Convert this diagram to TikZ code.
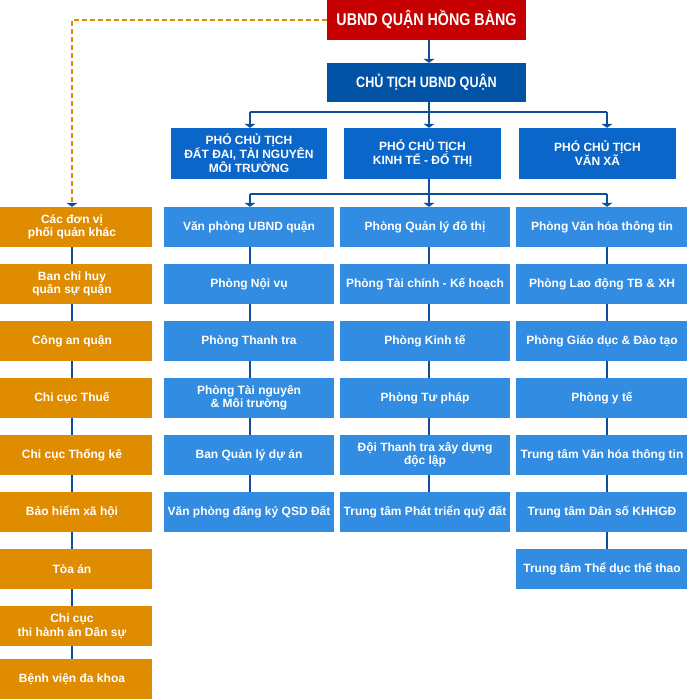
\documentclass[tikz,border=0pt]{standalone}
\usepackage{fontspec}
\setmainfont{Liberation Sans}
\newfontfamily\narrowfont{Liberation Sans}[FakeStretch=0.84]
\usetikzlibrary{arrows.meta}
\definecolor{topred}{HTML}{C60000}
\definecolor{chiefblue}{HTML}{0153A5}
\definecolor{vpblue}{HTML}{0A66C8}
\definecolor{deptblue}{HTML}{328CE1}
\definecolor{unitorange}{HTML}{E08C00}
\definecolor{linkblue}{HTML}{0D4F9E}
\tikzset{
  boxbase/.style={draw=none, text=white, align=center, inner sep=0pt,
    font=\bfseries\fontsize{12}{13.5}\selectfont},
  topbox/.style={boxbase, fill=topred, minimum width=199pt, minimum height=40pt,
    font=\narrowfont\bfseries\fontsize{17}{20}\selectfont},
  chiefbox/.style={boxbase, fill=chiefblue, minimum width=199pt, minimum height=39pt,
    font=\narrowfont\bfseries\fontsize{15}{18}\selectfont},
  vpbox/.style={boxbase, fill=vpblue, minimum width=157pt, minimum height=51pt,
    font=\bfseries\fontsize{12}{14}\selectfont},
  deptbox/.style={boxbase, fill=deptblue, minimum width=170pt, minimum height=40pt},
  deptboxr/.style={boxbase, fill=deptblue, minimum width=172pt, minimum height=40pt},
  unitbox/.style={boxbase, fill=unitorange, minimum width=160pt, minimum height=40pt},
  link/.style={draw=linkblue, line width=1.2pt},
  tipped/.style={-{Triangle[width=11pt,length=4pt,color=linkblue]}},
  dashlink/.style={draw=unitorange, line width=1.2pt, dash pattern=on 5pt off 3pt}
}
\begin{document}
\begin{tikzpicture}[x=1pt,y=-1pt]
\useasboundingbox (0,0) rectangle (687,699);

% top
\node[topbox] (top) at (426.5,20) {UBND QUẬN HỒNG BÀNG};
\node[chiefbox] (chief) at (426.5,82.5) {CHỦ TỊCH UBND QUẬN};

% vice chairs
\node[vpbox, minimum width=156pt] (vp1) at (249,153.5) {PHÓ CHỦ TỊCH\\ĐẤT ĐAI, TÀI NGUYÊN\\MÔI TRƯỜNG};
\node[vpbox] (vp2) at (422.5,153.5) {PHÓ CHỦ TỊCH\\KINH TẾ - ĐỐ THỊ};
\node[vpbox] (vp3) at (597.5,153.5) {PHÓ CHỦ TỊCH\\VĂN XÃ};

% column 1
\node[deptbox] (a1) at (249,227) {Văn phòng UBND quận};
\node[deptbox] (a2) at (249,284) {Phòng Nội vụ};
\node[deptbox] (a3) at (249,341) {Phòng Thanh tra};
\node[deptbox] (a4) at (249,398) {Phòng Tài nguyên\\\& Môi trường};
\node[deptbox] (a5) at (249,455) {Ban Quản lý dự án};
\node[deptbox] (a6) at (249,512) {Văn phòng đăng ký QSD Đất};

% column 2
\node[deptbox] (b1) at (425,227) {Phòng Quản lý đô thị};
\node[deptbox] (b2) at (425,284) {Phòng Tài chính - Kế hoạch};
\node[deptbox] (b3) at (425,341) {Phòng Kinh tế};
\node[deptbox] (b4) at (425,398) {Phòng Tư pháp};
\node[deptbox] (b5) at (425,455) {Đội Thanh tra xây dựng\\độc lập};
\node[deptbox] (b6) at (425,512) {Trung tâm Phát triển quỹ đất};

% column 3
\node[deptboxr] (c1) at (602,227) {Phòng Văn hóa thông tin};
\node[deptboxr] (c2) at (602,284) {Phòng Lao động TB \& XH};
\node[deptboxr] (c3) at (602,341) {Phòng Giáo dục \& Đào tạo};
\node[deptboxr] (c4) at (602,398) {Phòng y tế};
\node[deptboxr] (c5) at (602,455) {Trung tâm Văn hóa thông tin};
\node[deptboxr] (c6) at (602,512) {Trung tâm Dân số KHHGĐ};
\node[deptboxr] (c7) at (602,569) {Trung tâm Thể dục thể thao};

% left units
\node[unitbox] (u1) at (72,227) {Các đơn vị\\phối quản khác};
\node[unitbox] (u2) at (72,284) {Ban chỉ huy\\quân sự quận};
\node[unitbox] (u3) at (72,341) {Công an quận};
\node[unitbox] (u4) at (72,398) {Chi cục Thuế};
\node[unitbox] (u5) at (72,455) {Chi cục Thống kê};
\node[unitbox] (u6) at (72,512) {Bảo hiểm xã hội};
\node[unitbox] (u7) at (72,569) {Tòa án};
\node[unitbox] (u8) at (72,626) {Chi cục\\thi hành án Dân sự};
\node[unitbox] (u9) at (72,679) {Bệnh viện đa khoa};

% bus coordinates
\coordinate (p1L) at (250,112);
\coordinate (p1M) at (429,112);
\coordinate (p1R) at (607,112);
\coordinate (p2L) at (250,194);
\coordinate (p2M) at (429,194);
\coordinate (p2R) at (607,194);

% top connectors
\draw[link,tipped] (top.south -| p1M) -- (chief.north -| p1M);
\draw[link] (chief.south -| p1M) -- (p1M);
\draw[link] (p1L) -- (p1R);
\draw[link,tipped] (p1L) -- (p1L |- vp1.north);
\draw[link,tipped] (p1M) -- (p1M |- vp2.north);
\draw[link,tipped] (p1R) -- (p1R |- vp3.north);

\draw[link] (vp2.south -| p2M) -- (p2M);
\draw[link] (p2L) -- (p2R);
\draw[link,tipped] (p2L) -- (p2L |- a1.north);
\draw[link,tipped] (p2M) -- (p2M |- b1.north);
\draw[link,tipped] (p2R) -- (p2R |- c1.north);

% column chains
\foreach \i/\j in {1/2,2/3,3/4,4/5,5/6}{
  \draw[link] (a\i.south -| p2L) -- (a\j.north -| p2L);
  \draw[link] (b\i.south -| p2M) -- (b\j.north -| p2M);
}
\foreach \i/\j in {1/2,2/3,3/4,4/5,5/6,6/7}{
  \draw[link] (c\i.south -| p2R) -- (c\j.north -| p2R);
}
\foreach \i/\j in {1/2,2/3,3/4,4/5,5/6,6/7,7/8,8/9}{
  \draw[link] (u\i.south) -- (u\j.north);
}

% dashed link to left units
\draw[dashlink,tipped] (top.west) -| (u1.north);
\end{tikzpicture}
\end{document}
